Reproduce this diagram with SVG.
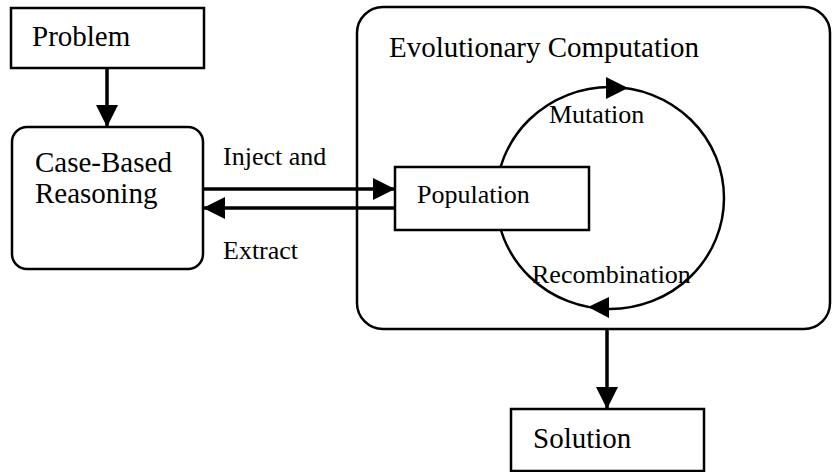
<svg xmlns="http://www.w3.org/2000/svg" width="832" height="472" viewBox="0 0 832 472">
  <defs>
    <marker id="arrow" markerUnits="userSpaceOnUse" markerWidth="24" markerHeight="24" refX="22" refY="11" orient="auto">
      <path d="M0,0 L22,11 L0,22 Z" fill="#000"/>
    </marker>
    <style>
      .box { fill: #fff; stroke: #000; stroke-width: 2.5; }
      .ring { fill: none; stroke: #000; stroke-width: 2.5; }
      .edge { fill: none; stroke: #000; stroke-width: 3.5; }
      .big { font-family: "Liberation Serif", "Times New Roman", serif; font-size: 29px; fill: #000; }
      .small { font-family: "Liberation Serif", "Times New Roman", serif; font-size: 26px; fill: #000; }
    </style>
  </defs>
  <rect width="832" height="472" fill="#fff"/>

  <!-- Evolutionary Computation container -->
  <g id="evolutionary-computation">
    <rect class="box" x="357" y="7" width="473" height="322" rx="26" ry="26"/>
    <text class="big" x="389" y="57">Evolutionary Computation</text>
  </g>

  <!-- Evolution cycle -->
  <g id="cycle">
    <ellipse class="ring" cx="610" cy="198" rx="114" ry="111"/>
    <path d="M606,77 L628,88 L606,99 Z" fill="#000"/>
    <path d="M609,297 L588,307 L609,318 Z" fill="#000"/>
    <text class="small" x="549" y="123">Mutation</text>
    <text class="small" x="532" y="283">Recombination</text>
  </g>

  <g id="problem">
    <rect class="box" x="11" y="8" width="193" height="60"/>
    <text class="big" x="32" y="46">Problem</text>
  </g>

  <g id="case-based-reasoning">
    <rect class="box" x="12" y="127" width="191" height="142" rx="15" ry="15"/>
    <text class="big" x="35" y="172">Case-Based</text>
    <text class="big" x="35" y="203">Reasoning</text>
  </g>

  <g id="population">
    <rect class="box" x="395" y="167" width="194" height="63"/>
    <text class="small" x="417" y="203">Population</text>
  </g>

  <g id="solution">
    <rect class="box" x="511" y="409" width="193" height="62"/>
    <text class="big" x="533" y="448">Solution</text>
  </g>

  <!-- Connectors -->
  <g id="connectors">
    <line class="edge" x1="107" y1="68" x2="107" y2="127" marker-end="url(#arrow)"/>
    <line class="edge" x1="203" y1="189" x2="395" y2="189" marker-end="url(#arrow)"/>
    <line class="edge" x1="395" y1="208" x2="203" y2="208" marker-end="url(#arrow)"/>
    <line class="edge" x1="607" y1="329" x2="607" y2="409" marker-end="url(#arrow)"/>
    <text class="small" x="223" y="165">Inject and</text>
    <text class="small" x="223" y="259">Extract</text>
  </g>
</svg>
